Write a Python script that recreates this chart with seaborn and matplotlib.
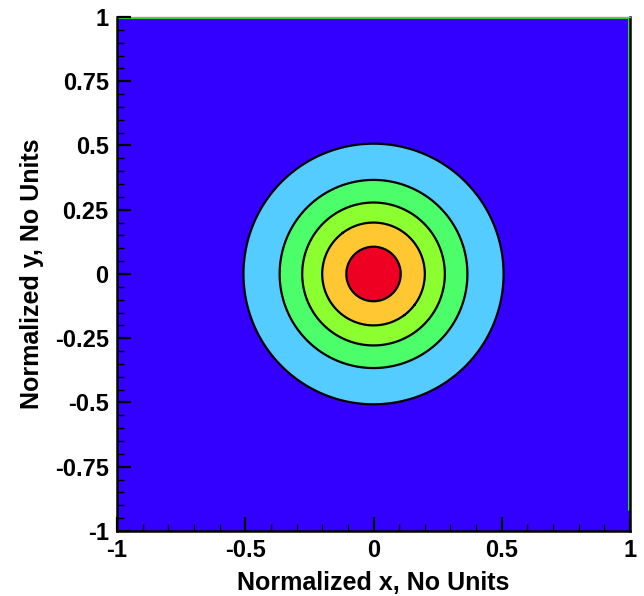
"""Filled radial contour plot, normalized coordinates."""

import numpy as np
import matplotlib
matplotlib.use("Agg")
import matplotlib.pyplot as plt
from matplotlib.ticker import MultipleLocator, FuncFormatter
import seaborn as sns

# contour radii (normalized units)
contour_radii = [0.106, 0.2, 0.278, 0.366, 0.507]
# band colours, innermost first, last one is the background
band_colors = ["#ee0022", "#ffc832", "#8cff30", "#4cff6a", "#55ccff", "#3300ff"]
x_ticks = [-1, -0.5, 0, 0.5, 1]
y_ticks = [-1, -0.75, -0.5, -0.25, 0, 0.25, 0.5, 0.75, 1]

sns.set_style("ticks")
plt.rcParams["font.family"] = ["Liberation Sans", "DejaVu Sans"]
plt.rcParams["font.weight"] = "bold"

grid = np.linspace(-1, 1, 801)
xx, yy = np.meshgrid(grid, grid)
rr = np.sqrt(xx**2 + yy**2)

fig = plt.figure(figsize=(6.44, 5.96), dpi=100)
ax = fig.add_axes([0.1817, 0.1091, 0.7966, 0.8624])
ax.set_axisbelow(False)

levels = [0] + contour_radii + [3]
ax.contourf(xx, yy, rr, levels=levels, colors=band_colors)
ax.contour(xx, yy, rr, levels=contour_radii, colors="black", linewidths=1.6)

# thin green strip along top and right edges
ax.plot([-1, 0.995], [0.995, 0.995], color="#22dd22", lw=1.5)
ax.plot([0.995, 0.995], [-0.92, 0.995], color="#22dd22", lw=1.5)

ax.set_xlim(-1, 1)
ax.set_ylim(-1, 1)
ax.set_xticks(x_ticks)
ax.set_yticks(y_ticks)
ax.xaxis.set_minor_locator(MultipleLocator(0.1))
ax.yaxis.set_minor_locator(MultipleLocator(0.05))
fmt = FuncFormatter(lambda v, p: f"{v:g}")
ax.xaxis.set_major_formatter(fmt)
ax.yaxis.set_major_formatter(fmt)
ax.tick_params(which="major", direction="in", length=10, width=1.6,
               labelsize=17, color="black", labelcolor="black", pad=6)
ax.tick_params(which="minor", direction="in", length=5, width=1.0, color="black")
for s in ax.spines.values():
    s.set_linewidth(1.8)
    s.set_color("black")
ax.spines["top"].set_linewidth(1.0)
ax.spines["top"].set_color("#999999")

ax.set_xlabel("Normalized x, No Units", fontsize=18, fontweight="bold",
              color="black", labelpad=6)
ax.set_ylabel("Normalized y, No Units", fontsize=18, fontweight="bold",
              color="black", labelpad=8)

fig.savefig("out.png", dpi=100)
